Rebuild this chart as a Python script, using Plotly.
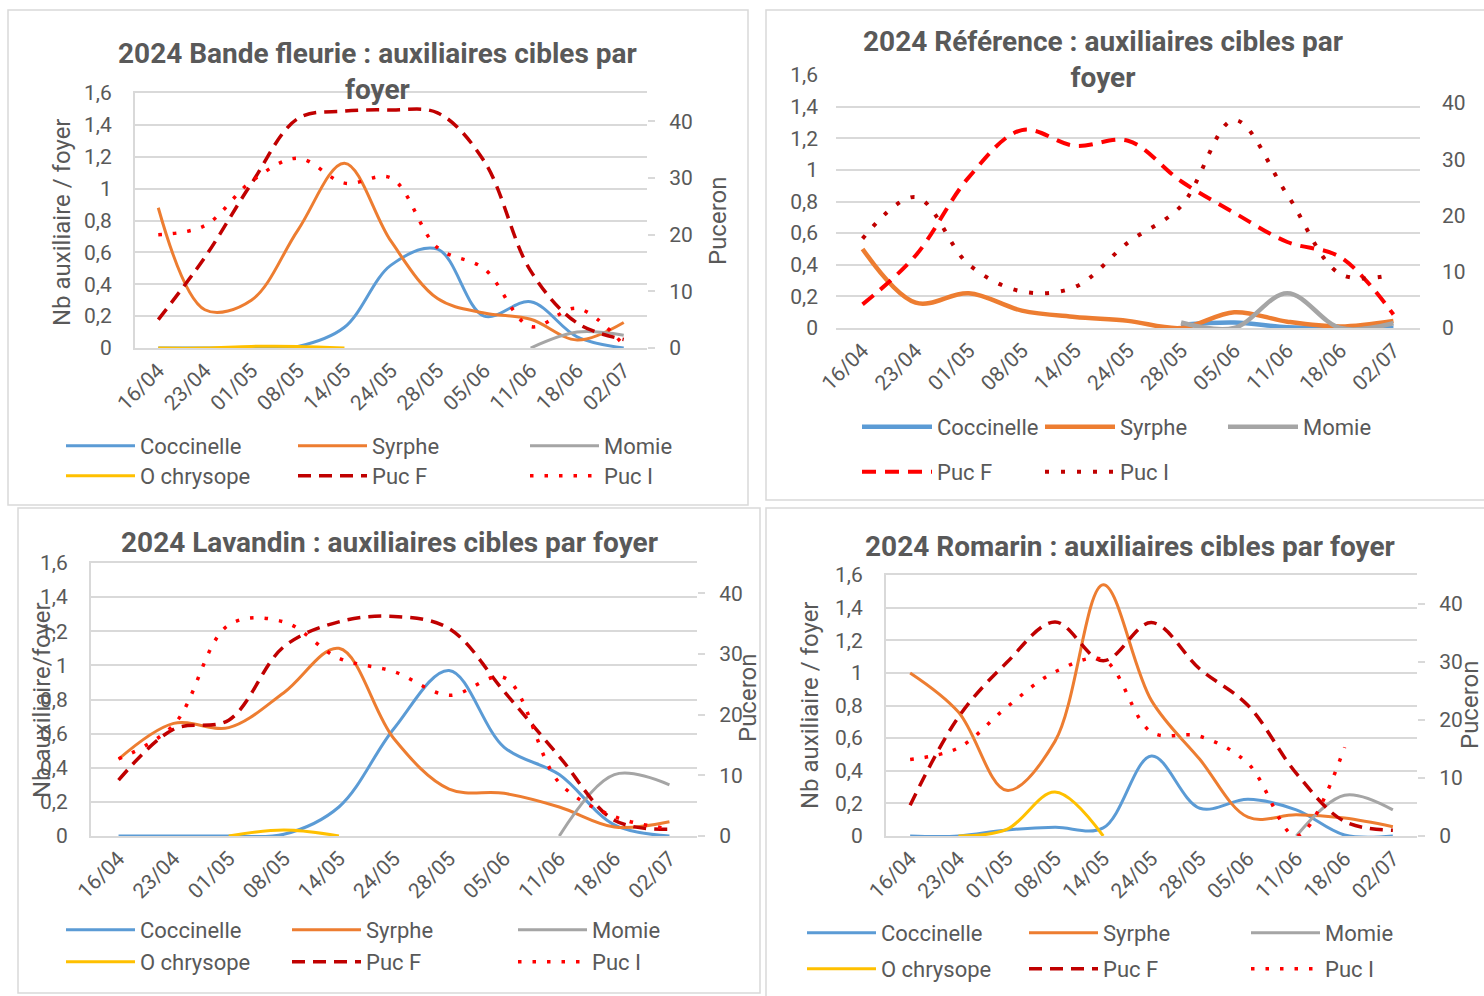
import plotly.graph_objects as go

# ---------------- data ----------------
categories = ["16/04", "23/04", "01/05", "08/05", "14/05", "24/05",
              "28/05", "05/06", "11/06", "18/06", "02/07"]
N = None

# Bande fleurie
bf_coccinelle = [0, 0, 0, 0.01, 0.13, 0.52, 0.62, 0.20, 0.29, 0.07, 0.0]
bf_syrphe = [0.88, 0.24, 0.30, 0.74, 1.16, 0.67, 0.31, 0.22, 0.18, 0.05, 0.16]
bf_momie = [N, N, N, N, N, N, N, N, 0, 0.10, 0.08]
bf_chrysope = [0, 0, 0.01, 0.01, 0, N, N, N, N, N, N]
bf_pucf = [5, 16, 29, 40.5, 41.8, 42, 41.5, 33, 13.6, 4.4, 1.5]
bf_puci = [20, 21.6, 29.4, 33.5, 29.1, 30, 17.7, 14, 3.8, 7, 0.5]

# Référence
ref_coccinelle = [N, N, N, N, N, N, 0.02, 0.035, 0.005, 0, 0]
ref_syrphe = [0.50, 0.16, 0.22, 0.11, 0.07, 0.045, 0.0, 0.10, 0.04, 0.01, 0.045]
ref_momie = [N, N, N, N, N, N, 0.035, 0.0, 0.22, 0.0, 0.03]
ref_pucf = [4.2, 12.9, 26.8, 35.2, 32.4, 33.3, 26.1, 20.5, 15.3, 12.6, 2.4]
ref_puci = [15.9, 23.3, 11.3, 6.5, 7.3, 15.2, 21.7, 37, 23.7, 9.6, 9.5]

# Lavandin
lav_coccinelle = [0, 0, 0, 0.01, 0.17, 0.63, 0.97, 0.52, 0.36, 0.065, 0.0]
lav_syrphe = [0.45, 0.66, 0.635, 0.84, 1.10, 0.57, 0.275, 0.25, 0.17, 0.053, 0.084]
lav_momie = [N, N, N, N, N, N, N, N, 0, 0.36, 0.30]
lav_chrysope = [N, N, 0, 0.035, 0, N, N, N, N, N, N]
lav_pucf = [9.2, 17.6, 19.1, 31.2, 35.3, 36.2, 34.2, 23.8, 13.1, 2.6, 1.1]
lav_puci = [12.7, 18.3, 34.8, 35.3, 29.3, 27.1, 23.2, 26.1, 8.8, 3.2, 1.2]

# Romarin
rom_coccinelle = [0, 0, 0.037, 0.053, 0.05, 0.49, 0.17, 0.225, 0.16, 0.006, 0.0]
rom_syrphe = [1.00, 0.76, 0.28, 0.58, 1.54, 0.83, 0.47, 0.115, 0.13, 0.11, 0.057]
rom_momie = [N, N, N, N, N, N, N, N, 0, 0.25, 0.16]
rom_chrysope = [N, 0, 0.04, 0.27, 0, N, N, N, N, N, N]
rom_pucf = [5.3, 20.5, 29.9, 36.9, 30.2, 36.8, 28.8, 22.5, 10.8, 2.5, 1.0]
rom_puci = [13.2, 15.2, 22.2, 28.3, 30.4, 17.9, 17.2, 12.5, 0, 15.3, N]

left_ticks = [0, 0.2, 0.4, 0.6, 0.8, 1.0, 1.2, 1.4, 1.6]
right_ticks = [0, 10, 20, 30, 40]

# ---------------- style ----------------
W, H = 1484, 996
FONT = "Liberation Sans Narrow, Arial Narrow, Roboto, sans-serif"
GREY = "#595959"
GRID = "#d9d9d9"
C_COC, C_SYR, C_MOM, C_CHR = "#5B9BD5", "#ED7D31", "#A5A5A5", "#FFC000"
DARKRED, RED = "#C00000", "#FF0000"


def px(x):
    return x / W


def py(y):
    return 1 - y / H


panels = [
    dict(title="2024 Bande fleurie : auxiliaires cibles par<br>foyer", tpos=(377, 71),
         area=(135, 647, 93, 348), border=True,
         ytitle=("Nb auxiliaire / foyer", 62, 222), rtitle=("Puceron", 718, 221),
         leg=(66, 446, 476, 69, 148), lw=3, dw=3.5,
         series=[("Coccinelle", bf_coccinelle, C_COC, "solid", "L", 0),
                 ("Syrphe", bf_syrphe, C_SYR, "solid", "L", 0),
                 ("Momie", bf_momie, C_MOM, "solid", "L", 0),
                 ("O chrysope", bf_chrysope, C_CHR, "solid", "L", 1),
                 ("Puc F", bf_pucf, DARKRED, "13px,8px", "R", 1),
                 ("Puc I", bf_puci, RED, "3.5px,11px", "R", 1)]),
    dict(title="2024 Référence : auxiliaires cibles par<br>foyer", tpos=(1103, 60),
         area=(836, 1420, 75, 328), border=False,
         ytitle=None, rtitle=None,
         leg=(862, 427, 472, 70, 98), lw=4.5, dw=4,
         series=[("Coccinelle", ref_coccinelle, C_COC, "solid", "L", 0),
                 ("Syrphe", ref_syrphe, C_SYR, "solid", "L", 0),
                 ("Momie", ref_momie, C_MOM, "solid", "L", 0),
                 ("Puc F", ref_pucf, RED, "14px,9px", "R", 1),
                 ("Puc I", ref_puci, DARKRED, "4px,12px", "R", 1)]),
    dict(title="2024 Lavandin : auxiliaires cibles par foyer", tpos=(390, 542),
         area=(91, 697, 563, 836), border=True,
         ytitle=("Nb auxiliaire/foyer", 42, 700), rtitle=("Puceron", 748, 698),
         leg=(66, 930, 962, 69, 142), lw=3, dw=3.5,
         series=[("Coccinelle", lav_coccinelle, C_COC, "solid", "L", 0),
                 ("Syrphe", lav_syrphe, C_SYR, "solid", "L", 0),
                 ("Momie", lav_momie, C_MOM, "solid", "L", 0),
                 ("O chrysope", lav_chrysope, C_CHR, "solid", "L", 1),
                 ("Puc F", lav_pucf, DARKRED, "13px,8px", "R", 1),
                 ("Puc I", lav_puci, RED, "3.5px,11px", "R", 1)]),
    dict(title="2024 Romarin : auxiliaires cibles par foyer", tpos=(1130, 546),
         area=(886, 1417, 575, 836), border=True,
         ytitle=("Nb auxiliaire / foyer", 810, 705), rtitle=("Puceron", 1470, 705),
         leg=(807, 933, 969, 69, 138), lw=3, dw=3.5,
         series=[("Coccinelle", rom_coccinelle, C_COC, "solid", "L", 0),
                 ("Syrphe", rom_syrphe, C_SYR, "solid", "L", 0),
                 ("Momie", rom_momie, C_MOM, "solid", "L", 0),
                 ("O chrysope", rom_chrysope, C_CHR, "solid", "L", 1),
                 ("Puc F", rom_pucf, DARKRED, "13px,8px", "R", 1),
                 ("Puc I", rom_puci, RED, "3.5px,11px", "R", 1)]),
]

fig = go.Figure()
layout = dict(width=W, height=H,
              margin=dict(l=0, r=0, t=0, b=0, pad=0, autoexpand=False),
              paper_bgcolor="white", plot_bgcolor="rgba(0,0,0,0)",
              separators=", ", font=dict(family=FONT, color=GREY, size=21),
              showlegend=True)
annotations = []
shapes = []

# panel borders
for (x0, y0, x1, y1) in [(8, 10, 748, 505), (766, 10, 1490, 500),
                         (18, 508, 760, 993), (766, 508, 1490, 1000)]:
    shapes.append(dict(type="rect", xref="paper", yref="paper",
                       x0=px(x0), x1=px(x1), y0=py(y1), y1=py(y0),
                       line=dict(color=GRID, width=1.5), layer="below"))

for p, P in enumerate(panels, start=1):
    xname = "x" if p == 1 else f"x{p}"
    yl = 2 * p - 1
    yr = 2 * p
    ylname = "y" if yl == 1 else f"y{yl}"
    yrname = f"y{yr}"
    xa, xb, ya, yb = P["area"]
    xdom = [px(xa), px(xb)]
    ydom = [py(yb), py(ya)]
    border = P["border"]

    layout["xaxis" if p == 1 else f"xaxis{p}"] = dict(
        domain=xdom, anchor=ylname, type="category", categoryorder="array",
        categoryarray=categories, range=[-0.5, len(categories) - 0.5],
        tickangle=-45, tickfont=dict(size=21, color=GREY, family=FONT),
        showgrid=False, zeroline=False, ticks="", automargin=False,
        showline=True, linecolor=GRID, linewidth=2, mirror=border)
    layout["yaxis" if yl == 1 else f"yaxis{yl}"] = dict(
        domain=ydom, anchor=xname, range=[0, 1.6], tickvals=left_ticks,
        tickfont=dict(size=21, color=GREY, family=FONT), automargin=False,
        showgrid=True, gridcolor=GRID, gridwidth=2, zeroline=False,
        showline=border, linecolor=GRID, linewidth=2, ticks="", ticklabelstandoff=17)
    layout[f"yaxis{yr}"] = dict(
        overlaying=ylname, side="right", anchor=xname, range=[0, 45],
        tickvals=right_ticks, tickfont=dict(size=21, color=GREY, family=FONT),
        showgrid=False, zeroline=False, showline=False, automargin=False,
        ticks="outside" if border else "", ticklen=7, tickcolor=GRID, tickwidth=2,
        ticklabelstandoff=10 if border else 21)

    lx, ry1, ry2, iw, ew = P["leg"]
    for r, ry in enumerate((ry1, ry2)):
        lid = 2 * (p - 1) + r + 1
        lname = "legend" if lid == 1 else f"legend{lid}"
        layout[lname] = dict(orientation="h", x=px(lx - 5), xanchor="left",
                             y=py(ry), yanchor="middle", itemwidth=iw,
                             entrywidth=ew, entrywidthmode="pixels",
                             bgcolor="rgba(0,0,0,0)", borderwidth=0,
                             font=dict(size=22, color=GREY, family=FONT),
                             itemclick=False, itemdoubleclick=False)

    for name, vals, color, dash, side, row in P["series"]:
        lid = 2 * (p - 1) + row + 1
        lname = "legend" if lid == 1 else f"legend{lid}"
        width = P["lw"] if dash == "solid" else P["dw"]
        fig.add_trace(go.Scatter(
            x=categories, y=vals, name=name, mode="lines",
            line=dict(color=color, width=width, dash=dash, shape="spline", smoothing=1.0),
            connectgaps=False, xaxis=xname, yaxis=ylname if side == "L" else yrname,
            legend=lname, hoverinfo="skip"))

    tx, ty = P["tpos"]
    annotations.append(dict(text=f"<b>{P['title']}</b>", x=px(tx), y=py(ty),
                            xref="paper", yref="paper", xanchor="center", yanchor="middle",
                            showarrow=False, font=dict(size=28, color=GREY, family=FONT)))
    if P["ytitle"]:
        t, ax, ay = P["ytitle"]
        annotations.append(dict(text=t, x=px(ax), y=py(ay), xref="paper", yref="paper",
                                xanchor="center", yanchor="middle", textangle=-90,
                                showarrow=False, font=dict(size=24, color=GREY, family=FONT)))
    if P["rtitle"]:
        t, ax, ay = P["rtitle"]
        annotations.append(dict(text=t, x=px(ax), y=py(ay), xref="paper", yref="paper",
                                xanchor="center", yanchor="middle", textangle=-90,
                                showarrow=False, font=dict(size=24, color=GREY, family=FONT)))

layout["annotations"] = annotations
layout["shapes"] = shapes
fig.update_layout(**layout)
fig.write_html("out.html", config={"displayModeBar": False},
               post_script="document.body.style.margin='0';document.body.style.padding='0';")
